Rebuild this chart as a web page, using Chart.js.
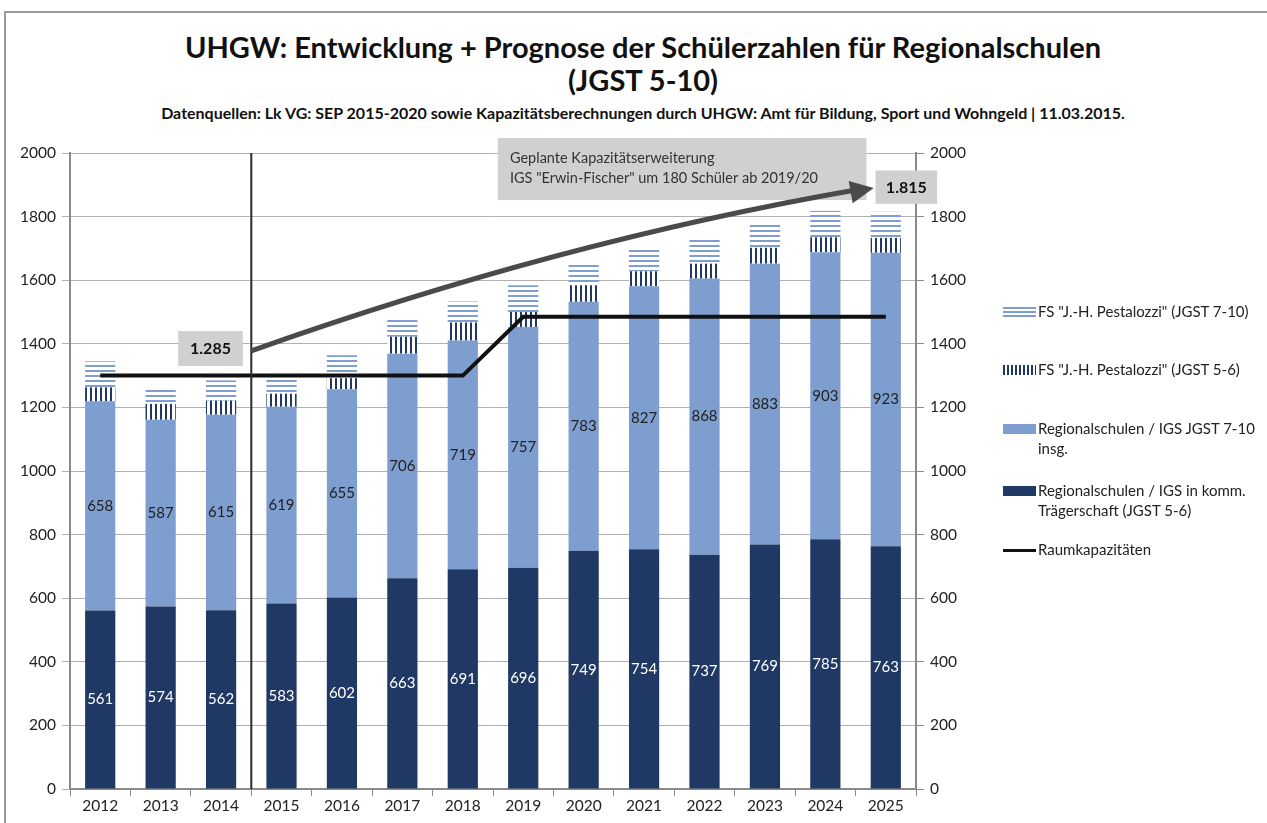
<!DOCTYPE html>
<html lang="de">
<head>
<meta charset="utf-8">
<title>UHGW Schülerzahlen Regionalschulen</title>
<script src="https://cdn.jsdelivr.net/npm/chart.js@4.4.1/dist/chart.umd.min.js"></script>
<style>
  html, body { margin: 0; padding: 0; background: #fff; }
  body { width: 1267px; height: 823px; position: relative; overflow: hidden; font-family: Lato, "Open Sans", sans-serif; }
  #rahmen { position: absolute; left: 4px; top: 11px; right: -4px; bottom: -4px; border-top: 2px solid #9a9a9a; border-left: 2px solid #9a9a9a; }
  #wrap { position: absolute; left: 0; top: 0; width: 1267px; height: 823px; }
  .titel { position: absolute; left: 0; width: 1286px; text-align: center; color: #111; font-weight: bold; white-space: nowrap; }
  #t1 { top: 30px; font-size: 29px; line-height: 34px; }
  #t2 { top: 63px; font-size: 29px; line-height: 34px; }
  #t3 { top: 103px; font-size: 16px; line-height: 20px; }
  #legende { position: absolute; left: 1003px; top: 300px; font-size: 15px; color: #222; }
  .eintrag { position: absolute; left: 0; display: flex; align-items: flex-start; white-space: nowrap; line-height: 20px; }
  .sw { width: 33px; height: 10px; margin-top: 6px; margin-right: 2px; flex: none; }
  .sw-h { background: repeating-linear-gradient(to bottom, #7f9ed0 0 2px, #fff 2px 4px); }
  .sw-v { background: repeating-linear-gradient(to right, #203864 0 2px, #fff 2px 4px); }
  .sw-l { background: #7f9ed0; }
  .sw-d { background: #203864; }
  .sw-k { height: 3px; margin-top: 10px; background: #111; }
</style>
</head>
<body>
<div id="rahmen"></div>
<div class="titel" id="t1">UHGW: Entwicklung + Prognose der Schülerzahlen für Regionalschulen</div>
<div class="titel" id="t2">(JGST 5-10)</div>
<div class="titel" id="t3">Datenquellen: Lk VG: SEP 2015-2020 sowie Kapazitätsberechnungen durch UHGW: Amt für Bildung, Sport und Wohngeld | 11.03.2015.</div>
<div id="wrap"><canvas id="grafik" width="1267" height="823"></canvas></div>
<div id="legende">
  <div class="eintrag" style="top:1px"><span class="sw sw-h"></span><span>FS "J.-H. Pestalozzi" (JGST 7-10)</span></div>
  <div class="eintrag" style="top:59px"><span class="sw sw-v"></span><span>FS "J.-H. Pestalozzi" (JGST 5-6)</span></div>
  <div class="eintrag" style="top:118px"><span class="sw sw-l"></span><span>Regionalschulen / IGS JGST 7-10<br>insg.</span></div>
  <div class="eintrag" style="top:180px"><span class="sw sw-d"></span><span>Regionalschulen / IGS in komm.<br>Trägerschaft (JGST 5-6)</span></div>
  <div class="eintrag" style="top:239px"><span class="sw sw-k"></span><span>Raumkapazitäten</span></div>
</div>
<script>
// Schuljahre
const jahre = ["2012","2013","2014","2015","2016","2017","2018","2019","2020","2021","2022","2023","2024","2025"];

// Regionalschulen / IGS in komm. Trägerschaft (JGST 5-6)
const regional56 = [561, 574, 562, 583, 602, 663, 691, 696, 749, 754, 737, 769, 785, 763];
// Regionalschulen / IGS JGST 7-10 insg.
const regional710 = [658, 587, 615, 619, 655, 706, 719, 757, 783, 827, 868, 883, 903, 923];
const pestalozzi56 = [44, 50, 44, 41, 35, 53, 57, 47, 52, 47, 47, 50, 47, 47];
const pestalozzi710 = [82, 53, 64, 68, 72, 60, 66, 84, 69, 76, 82, 79, 83, 82];
// Raumkapazitäten
const raumkapazitaet = [1300, 1300, 1300, 1300, 1300, 1300, 1300, 1485, 1485, 1485, 1485, 1485, 1485, 1485];

const hellblau = "#7f9ed0";
const dunkelblau = "#203864";
const schrift = "Lato, 'Open Sans', sans-serif";

function streifen(horizontal) {
  const c = document.createElement("canvas");
  c.width = horizontal ? 6 : 5;
  c.height = horizontal ? 5 : 6;
  const x = c.getContext("2d");
  x.fillStyle = "#fff";
  x.fillRect(0, 0, c.width, c.height);
  if (horizontal) {
    x.fillStyle = hellblau;
    x.fillRect(0, 0, c.width, 2);
  } else {
    x.fillStyle = dunkelblau;
    x.fillRect(0, 0, 2, c.height);
  }
  return x.createPattern(c, "repeat");
}

// Werte in die Segmente schreiben
const wertePlugin = {
  id: "werte",
  afterDatasetsDraw(chart) {
    const ctx = chart.ctx;
    ctx.save();
    ctx.font = "15px " + schrift;
    ctx.textAlign = "center";
    ctx.textBaseline = "middle";
    [0, 1].forEach(di => {
      const meta = chart.getDatasetMeta(di);
      ctx.fillStyle = di === 0 ? "#fff" : "#222";
      meta.data.forEach((bar, i) => {
        ctx.fillText(chart.data.datasets[di].data[i], bar.x, (bar.y + bar.base) / 2);
      });
    });
    ctx.restore();
  }
};

// Trennlinie, Pfeil und Beschriftungen
const notizPlugin = {
  id: "notiz",
  afterDraw(chart) {
    const ctx = chart.ctx;
    const xs = chart.scales.x, ys = chart.scales.y, ca = chart.chartArea;
    const px = v => xs.getPixelForValue(0) + v * (xs.getPixelForValue(1) - xs.getPixelForValue(0));
    const py = v => ys.getPixelForValue(v);

    // Trennlinie Ist / Prognose
    ctx.save();
    ctx.strokeStyle = "#2b2b2b";
    ctx.lineWidth = 2;
    ctx.beginPath();
    ctx.moveTo(px(2.5), ca.top);
    ctx.lineTo(px(2.5), ca.bottom);
    ctx.stroke();

    // Kästen
    function kasten(x1, y1, x2, y2) {
      ctx.fillStyle = "#d0d0d0";
      ctx.fillRect(x1, y1, x2 - x1, y2 - y1);
    }
    kasten(px(6.58), py(2047), px(12.68), py(1852));

    // Pfeil
    const p0 = [px(2.5), py(1378)], c1 = [px(7.6), py(1722)], p1 = [px(12.8), py(1890)];
    ctx.strokeStyle = "#4a4a4a";
    ctx.fillStyle = "#4a4a4a";
    ctx.lineWidth = 5;
    ctx.beginPath();
    ctx.moveTo(p0[0], p0[1]);
    ctx.quadraticCurveTo(c1[0], c1[1], p1[0] - 18, p1[1] + 2);
    ctx.stroke();
    const w = Math.atan2(p1[1] - (p1[1] + 4), 22);
    ctx.beginPath();
    ctx.moveTo(p1[0], p1[1]);
    ctx.lineTo(p1[0] - 26 * Math.cos(w - 0.45), p1[1] - 26 * Math.sin(w - 0.45));
    ctx.lineTo(p1[0] - 26 * Math.cos(w + 0.45), p1[1] - 26 * Math.sin(w + 0.45));
    ctx.closePath();
    ctx.fill();

    ctx.font = "bold 16px " + schrift;
    ctx.textAlign = "center";
    ctx.textBaseline = "middle";
    kasten(px(1.29), py(1440), px(2.36), py(1330));
    ctx.fillStyle = "#111";
    ctx.fillText("1.285", (px(1.29) + px(2.36)) / 2, py(1385));
    kasten(px(12.83), py(1945), px(13.85), py(1840));
    ctx.fillStyle = "#111";
    ctx.fillText("1.815", (px(12.83) + px(13.85)) / 2, py(1892));

    ctx.font = "14.5px " + schrift;
    ctx.textAlign = "left";
    ctx.fillStyle = "#333";
    ctx.fillText("Geplante Kapazitätserweiterung", px(6.78), py(1982));
    ctx.fillText("IGS \"Erwin-Fischer\" um 180 Schüler ab 2019/20", px(6.78), py(1920));
    ctx.restore();
  }
};

const tickText = v => String(v);

const ctx = document.getElementById("grafik").getContext("2d");
new Chart(ctx, {
  type: "bar",
  data: {
    labels: jahre,
    datasets: [
      { label: "Regionalschulen / IGS in komm. Trägerschaft (JGST 5-6)", data: regional56, backgroundColor: dunkelblau, order: 1 },
      { label: "Regionalschulen / IGS JGST 7-10 insg.", data: regional710, backgroundColor: hellblau, order: 1 },
      { label: "FS \"J.-H. Pestalozzi\" (JGST 5-6)", data: pestalozzi56, backgroundColor: streifen(false), order: 1 },
      { label: "FS \"J.-H. Pestalozzi\" (JGST 7-10)", data: pestalozzi710, backgroundColor: streifen(true), order: 1 },
      { type: "line", label: "Raumkapazitäten", data: raumkapazitaet, borderColor: "#111", borderWidth: 4,
        pointRadius: 0, tension: 0, fill: false, order: 0 }
    ]
  },
  options: {
    responsive: false,
    animation: false,
    events: [],
    layout: { padding: { left: 8, right: 291, top: 153, bottom: 6 } },
    datasets: { bar: { categoryPercentage: 1, barPercentage: 0.5 } },
    plugins: {
      legend: { display: false },
      tooltip: { enabled: false }
    },
    scales: {
      x: {
        stacked: true,
        grid: { offset: true, drawOnChartArea: false, tickLength: 7, color: "#8a8a8a" },
        border: { color: "#8a8a8a", width: 2 },
        ticks: { color: "#222", font: { family: schrift, size: 15.5 }, padding: 1 },
        afterFit: s => { s.height = 28; }
      },
      y: {
        stacked: true,
        min: 0, max: 2000,
        ticks: { stepSize: 200, color: "#222", font: { family: schrift, size: 15.5 }, padding: 6, callback: tickText },
        grid: { color: "#b0b0b0", tickLength: 8 },
        border: { color: "#8a8a8a", width: 2 },
        afterFit: s => { s.width = 62; }
      },
      y2: {
        position: "right",
        min: 0, max: 2000,
        ticks: { stepSize: 200, color: "#222", font: { family: schrift, size: 15.5 }, padding: 6, callback: tickText },
        grid: { drawOnChartArea: false, tickLength: 8, color: "#8a8a8a" },
        border: { color: "#8a8a8a", width: 2 },
        afterFit: s => { s.width = 60; }
      }
    }
  },
  plugins: [wertePlugin, notizPlugin]
});
</script>
</body>
</html>
